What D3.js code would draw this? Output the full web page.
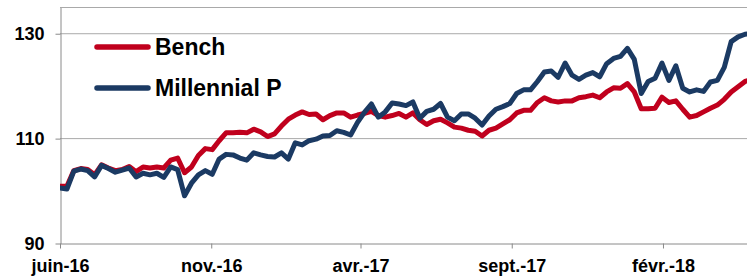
<!DOCTYPE html>
<html>
<head>
<meta charset="utf-8">
<script src="https://cdn.jsdelivr.net/npm/d3@7.9.0/dist/d3.min.js"></script>
<style>
  body { margin: 0; background: #fff; }
  svg { display: block; font-family: "Liberation Sans", Arial, sans-serif; font-weight: bold; }
</style>
</head>
<body>
<svg width="747" height="278"></svg>
<script>
// weekly observations, starting 1 June 2016
const startDate = new Date(2016, 5, 1);
const endDate = new Date(2018, 3, 27);

const bench = [
  100.8, 100.8, 103.8, 104.2, 104.0, 103.0, 104.9, 104.3, 103.8, 104.0,
  104.6, 103.6, 104.5, 104.3, 104.5, 104.3, 105.8, 106.2, 103.4, 104.5,
  106.7, 108.0, 107.8, 109.5, 111.0, 111.0, 111.1, 111.0, 111.7, 111.2,
  110.3, 110.8, 112.3, 113.6, 114.4, 115.0, 114.5, 114.6, 113.5, 114.3,
  114.8, 114.8, 114.0, 114.4, 114.7, 115.1, 114.3, 114.0, 114.3, 114.7,
  114.0, 114.8, 113.5, 112.6, 113.3, 113.6, 112.9, 112.1, 111.9, 111.5,
  111.3, 110.4, 111.5, 111.9, 112.7, 113.5, 114.8, 115.3, 115.3, 116.8,
  117.7, 117.1, 116.9, 117.1, 117.1, 117.7, 117.9, 118.2, 117.7, 118.8,
  119.6, 119.5, 120.4, 118.8, 115.6, 115.6, 115.7, 117.8, 116.8, 117.1,
  115.5, 114.0, 114.3, 115.0, 115.7, 116.3, 117.4, 118.8, 119.8, 120.8, 121.2
];

const millennial = [
  100.5, 100.3, 103.7, 104.1, 103.8, 102.6, 104.8, 104.2, 103.5, 103.9,
  104.3, 102.6, 103.3, 103.0, 103.3, 102.5, 104.5, 104.0, 99.0, 101.4,
  103.0, 103.8, 103.1, 106.0, 106.9, 106.8, 106.2, 105.8, 107.2, 106.8,
  106.5, 106.4, 107.2, 106.0, 109.1, 108.7, 109.5, 109.8, 110.4, 110.5,
  111.4, 111.1, 110.6, 113.0, 114.9, 116.5, 114.0, 115.0, 116.7, 116.5,
  116.2, 116.9, 113.8, 115.1, 115.5, 116.6, 114.0, 113.3, 114.6, 114.6,
  113.8, 112.5, 114.2, 115.5, 116.0, 116.6, 118.5, 119.2, 119.2, 120.8,
  122.6, 122.8, 121.6, 124.3, 122.0, 121.2, 122.0, 122.5, 121.7, 124.2,
  125.2, 125.6, 127.1, 125.0, 118.5, 120.8, 121.4, 124.3, 121.0, 123.8,
  119.5, 118.8, 119.2, 118.9, 120.7, 121.0, 123.5, 128.4, 129.3, 129.8, 130.0
];

const seriesNames = ["Bench", "Millennial P"];
const seriesColors = ["#c0001d", "#1b3a63"];

const tickDates = [
  new Date(2016, 5, 1), new Date(2016, 10, 1), new Date(2017, 3, 1),
  new Date(2017, 8, 1), new Date(2018, 1, 1)
];
const tickLabels = ["juin-16", "nov.-16", "avr.-17", "sept.-17", "févr.-18"];
const yTicks = [90, 110, 130];

const plotLeft = 60, plotRight = 747, plotTop = 7, plotBottom = 243;

const svg = d3.select("svg");

const x = d3.scaleTime().domain([startDate, endDate]).range([plotLeft, plotRight]);
const y = d3.scaleLinear().domain([90, 135]).range([plotBottom, plotTop]);

const dates = bench.map((_, i) => d3.timeDay.offset(startDate, i * 7));

// grid lines + top border
svg.append("g")
  .selectAll("line")
  .data(yTicks.filter(d => d !== 90).concat([135]))
  .enter()
  .append("line")
  .attr("x1", plotLeft)
  .attr("x2", plotRight)
  .attr("y1", d => y(d) + 0.5)
  .attr("y2", d => y(d) + 0.5)
  .attr("stroke", "#a9a9a9")
  .attr("stroke-width", 1);

// y axis
const yAxis = svg.append("g")
  .attr("transform", `translate(${plotLeft + 0.5},0.5)`)
  .call(d3.axisLeft(y).tickValues(yTicks).tickSize(5).tickPadding(11).tickSizeOuter(0));
yAxis.select(".domain").attr("stroke", "#8a8a8a");
yAxis.selectAll(".tick line").attr("stroke", "#8a8a8a");
yAxis.selectAll("text")
  .attr("font-size", 18)
  .attr("font-weight", "bold")
  .attr("font-family", "Liberation Sans, Arial, sans-serif")
  .attr("fill", "#000");

// x axis
const xAxis = svg.append("g")
  .attr("transform", `translate(0,${plotBottom + 0.5})`)
  .call(d3.axisBottom(x).tickValues(tickDates)
    .tickFormat((d, i) => tickLabels[i])
    .tickSize(5).tickPadding(11).tickSizeOuter(0));
xAxis.select(".domain").attr("stroke", "#8a8a8a");
xAxis.selectAll(".tick line").attr("stroke", "#8a8a8a");
xAxis.selectAll("text")
  .attr("font-size", 18)
  .attr("font-weight", "bold")
  .attr("font-family", "Liberation Sans, Arial, sans-serif")
  .attr("fill", "#000");

// clip
svg.append("clipPath").attr("id", "plot")
  .append("rect")
  .attr("x", plotLeft).attr("y", 0)
  .attr("width", plotRight - plotLeft).attr("height", plotBottom);

const line = d3.line()
  .x((d, i) => x(dates[i]))
  .y(d => y(d));

[bench, millennial].forEach((values, k) => {
  svg.append("path")
    .datum(values)
    .attr("clip-path", "url(#plot)")
    .attr("fill", "none")
    .attr("stroke", seriesColors[k])
    .attr("stroke-width", 5)
    .attr("stroke-linejoin", "round")
    .attr("stroke-linecap", "round")
    .attr("d", line);
});

// legend
const legend = svg.append("g");
seriesNames.forEach((name, k) => {
  const ly = 47 + k * 41;
  legend.append("line")
    .attr("x1", 97).attr("x2", 148)
    .attr("y1", ly).attr("y2", ly)
    .attr("stroke", seriesColors[k])
    .attr("stroke-width", 5.5)
    .attr("stroke-linecap", "round");
  legend.append("text")
    .attr("x", 155)
    .attr("y", ly + 8)
    .attr("font-size", 23)
    .attr("fill", "#000")
    .text(name);
});
</script>
</body>
</html>
